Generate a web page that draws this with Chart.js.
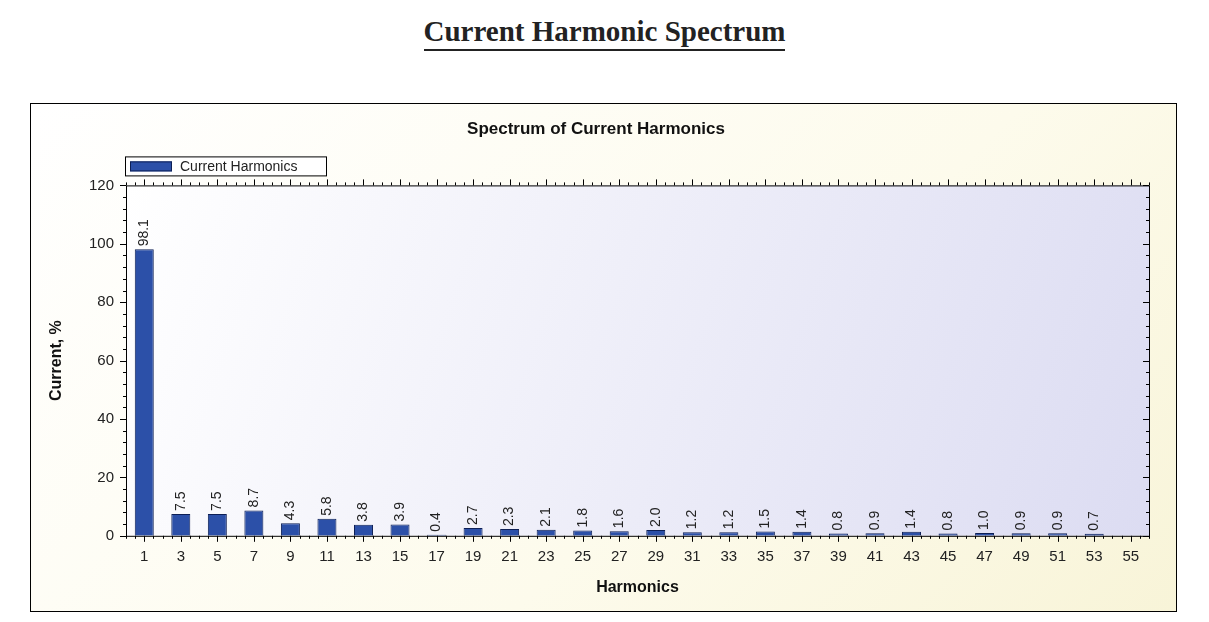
<!DOCTYPE html>
<html><head><meta charset="utf-8">
<script src="https://cdn.jsdelivr.net/npm/chart.js@4"></script>
<style>
body{margin:0;background:#fff;width:1209px;height:622px;position:relative;font-family:"Liberation Sans",Arial,sans-serif}
h1{position:absolute;top:15px;left:0;width:1209px;text-align:center;margin:0;font:bold 29px "Liberation Serif","Times New Roman",serif;color:#222}
h1 span{border-bottom:2px solid #222;padding-bottom:2px}
#box{position:absolute;left:30px;top:103px;width:1145px;height:507px;border:1px solid #000;background:linear-gradient(135deg,#fff 0%,#fdfbec 60%,#f8f4d8 100%)}
</style></head><body>
<h1><span>Current Harmonic Spectrum</span></h1>
<div id="box"><canvas id="c" width="1145" height="507"></canvas></div>
<script>
const harmonics = ['1','3','5','7','9','11','13','15','17','19','21','23','25','27','29','31','33','35','37','39','41','43','45','47','49','51','53','55'];
const currentPct = [98.1,7.5,7.5,8.7,4.3,5.8,3.8,3.9,0.4,2.7,2.3,2.1,1.8,1.6,2.0,1.2,1.2,1.5,1.4,0.8,0.9,1.4,0.8,1.0,0.9,0.9,0.7,null];
const seriesName = 'Current Harmonics';

const deco = {
  id:'deco',
  beforeDraw(ch){
    const a=ch.chartArea, g=ch.ctx;
    const gr=g.createLinearGradient(a.left,a.top,a.right,a.bottom);
    gr.addColorStop(0,'#ffffff');gr.addColorStop(1,'#dcdcf2');
    g.save();g.fillStyle=gr;g.fillRect(a.left,a.top,a.right-a.left,a.bottom-a.top);g.restore();
  },
  afterDatasetsDraw(ch){
    const a=ch.chartArea, g=ch.ctx, x=ch.scales.x, y=ch.scales.y;
    g.save();g.strokeStyle='#000';g.lineWidth=1;
    g.strokeRect(a.left+0.5,a.top+0.5,a.right-a.left,a.bottom-a.top);
    g.beginPath();
    for(let v=0;v<=120;v+=4){const p=Math.round(y.getPixelForValue(v))+0.5,L=v%20?3:6;
      g.moveTo(a.left-L,p);g.lineTo(a.left,p);g.moveTo(a.right,p);g.lineTo(a.right-L,p);}
    for(let i=-0.5;i<=harmonics.length-0.5;i+=0.25){const p=Math.round(x.getPixelForValue(i))+0.5,L=(i%1===0)?6:3;
      g.moveTo(p,a.bottom);g.lineTo(p,a.bottom+L);g.moveTo(p,a.top);g.lineTo(p,a.top-L);}
    g.stroke();
    g.fillStyle='#222';g.font='14px "Liberation Sans",Arial';g.textAlign='left';g.textBaseline='middle';
    ch.getDatasetMeta(0).data.forEach((b,i)=>{const v=currentPct[i];if(v==null)return;
      g.save();g.translate(b.x,b.y-3);g.rotate(-Math.PI/2);g.fillText(v.toFixed(1),0,0);g.restore();});
    // legend box
    const lx=a.left-1, ly=a.top-29;
    g.fillStyle='#fff';g.fillRect(lx,ly,201,19);
    g.strokeRect(lx+0.5,ly+0.5,201,19);
    g.fillStyle='#2c50a8';g.fillRect(lx+5,ly+5,42,10);
    g.strokeStyle='#0d1f55';g.strokeRect(lx+5.5,ly+5.5,41,9);
    g.fillStyle='#222';g.font='14px "Liberation Sans",Arial';g.textBaseline='middle';
    g.fillText(seriesName,lx+55,ly+10.5);
    g.restore();
  }
};

new Chart(document.getElementById('c'),{
  type:'bar',
  data:{labels:harmonics,datasets:[{label:seriesName,data:currentPct,
    backgroundColor:'#2c50a8',borderColor:'#0d1f55',borderWidth:1,categoryPercentage:0.52,barPercentage:1}]},
  options:{
    responsive:false,animation:false,
    layout:{padding:{left:12,right:27,top:8,bottom:10}},
    plugins:{
      title:{display:true,text:'Spectrum of Current Harmonics',color:'#111',font:{family:'"Liberation Sans",Arial',size:17,weight:'bold'},padding:{top:7,bottom:46}},
      legend:{display:false},
      tooltip:{enabled:false}
    },
    scales:{
      x:{grid:{display:false,drawTicks:false},border:{display:false},
        ticks:{color:'#222',font:{family:'"Liberation Sans",Arial',size:15},padding:12,maxRotation:0,autoSkip:false},
        title:{display:true,text:'Harmonics',color:'#111',font:{family:'"Liberation Sans",Arial',size:16,weight:'bold'},padding:{top:0}}},
      y:{min:0,max:120,grid:{display:false,drawTicks:false},border:{display:false},
        ticks:{stepSize:20,color:'#222',font:{family:'"Liberation Sans",Arial',size:15},padding:12},
        title:{display:true,text:'Current, %',color:'#111',font:{family:'"Liberation Sans",Arial',size:16,weight:'bold'}},
        afterFit(s){s.width=83;}}
    }
  },
  plugins:[deco]
});
</script></body></html>
